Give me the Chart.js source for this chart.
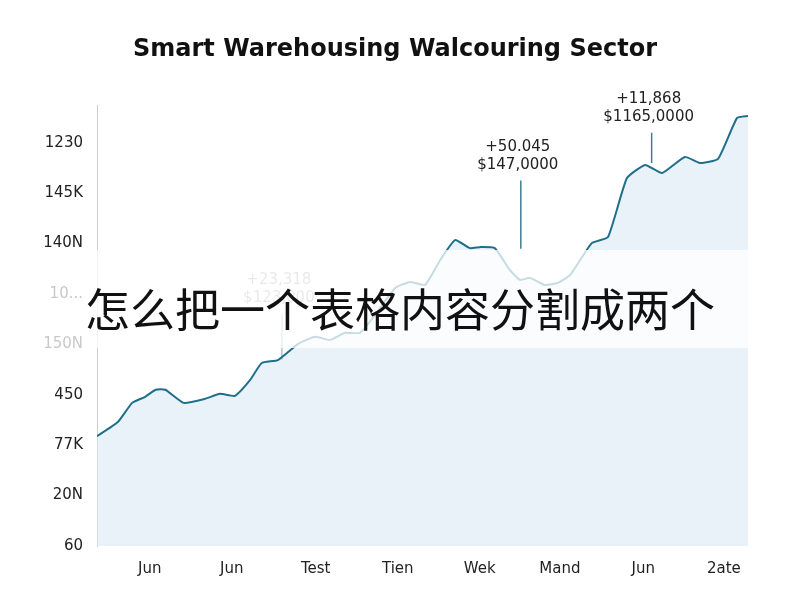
<!DOCTYPE html>
<html><head><meta charset="utf-8">
<script src="https://cdn.jsdelivr.net/npm/chart.js@4"></script>
<style>html,body{margin:0;padding:0;background:#fff}#w{width:800px;height:600px}</style>
</head><body><div id="w"><canvas id="c"></canvas></div>
<script>
const titleText = "Smart Warehousing Walcouring Sector";
const bannerText = "怎么把一个表格内容分割成两个";
const yTickLabels = ["60","20N","77K","450","150N","10...","140N","145K","1230"];
const xTickPos = [8.1,20.7,33.6,46.2,58.8,71.1,83.9,96.3];
const xTickLabels = ["Jun","Jun","Test","Tien","Wek","Mand","Jun","2ate"];
const xs = [0,3.2,5.4,7.4,9.0,10.5,13.3,16.6,18.9,21.2,23.5,25.3,27.8,30.9,33.5,35.8,38.1,40.4,42.7,45.8,48.1,50.4,52.7,55.0,57.3,58.8,61.1,63.4,65.0,66.5,68.8,70.8,72.7,76.0,78.5,81.4,84.2,86.8,90.3,92.6,95.4,98.3,100];
const ys = [2.18,2.46,2.84,2.96,3.10,3.10,2.84,2.92,3.02,2.98,3.29,3.63,3.69,4.01,4.15,4.09,4.23,4.23,4.58,5.12,5.24,5.18,5.67,6.07,5.91,5.93,5.91,5.48,5.28,5.32,5.18,5.22,5.38,6.01,6.13,7.30,7.56,7.40,7.72,7.60,7.68,8.49,8.53];
const notes = [
  {x:28.4, y:3.7, top:4.6, l1:"+23,318", l2:"$123,000", faint:true},
  {x:65.1, y:5.9, top:7.25, l1:"+50.045", l2:"$147,0000", faint:false},
  {x:85.2, y:7.6, top:8.2, l1:"+11,868", l2:"$1165,0000", faint:false}
];
const pts = xs.map((x,i)=>({x:x,y:ys[i]}));
const deco = {
  id:'deco',
  afterDatasetsDraw(ch){
    const c=ch.ctx, xs_=ch.scales.x, ys_=ch.scales.y;
    c.save();
    notes.forEach(n=>{
      const px=xs_.getPixelForValue(n.x), py=ys_.getPixelForValue(n.y), pt=ys_.getPixelForValue(n.top);
      c.strokeStyle=n.faint?'rgba(40,110,140,0.4)':'#3f7f95'; c.lineWidth=1.5;
      c.beginPath(); c.moveTo(px,pt); c.lineTo(px,py); c.stroke();
      c.fillStyle=n.faint?'rgba(30,30,30,0.4)':'#222'; c.font='15px "DejaVu Sans"'; c.textAlign='center';
      c.fillText(n.l1, px-3, pt-30); c.fillText(n.l2, px-3, pt-12);
    });
    c.restore();
  },
  afterDraw(ch){
    const c=ch.ctx; c.save();
    c.fillStyle='#111'; c.font='bold 24px "DejaVu Sans"'; c.textAlign='center'; c.textBaseline='middle';
    c.fillText(titleText,395,50);
    c.fillStyle='rgba(255,255,255,0.75)'; c.fillRect(0,250,800,98);
    c.fillStyle='#111'; c.font='45px "Noto Sans CJK SC"'; c.fillText(bannerText,400,310);
    c.restore();
  }
};
new Chart(document.getElementById('c'),{
  type:'line',
  data:{datasets:[{data:pts,borderColor:'#1f6f8b',borderWidth:2,backgroundColor:'rgba(218,234,244,0.6)',fill:'start',pointRadius:0,tension:0.15}]},
  options:{responsive:true,maintainAspectRatio:false,animation:false,
    layout:{padding:{top:105,right:52,left:0,bottom:0}},
    plugins:{legend:{display:false},tooltip:{enabled:false}},
    scales:{
      x:{type:'linear',min:0,max:100,grid:{display:false},border:{display:false},
        afterBuildTicks:s=>{s.ticks=xTickPos.map(v=>({value:v}));},
        afterFit:s=>{s.height=54;},
        ticks:{color:'#222',font:{size:15,family:'DejaVu Sans'},maxRotation:0,autoSkip:false,padding:6,
          callback:(v,i)=>xTickLabels[i]}},
      y:{min:0,max:8.75,grid:{display:false},border:{color:'#ccc'},
        afterBuildTicks:s=>{s.ticks=yTickLabels.map((t,i)=>({value:i}));},
        afterFit:s=>{s.width=97;},
        ticks:{color:'#222',font:{size:15,family:'DejaVu Sans'},padding:6,callback:(v,i)=>yTickLabels[i]}}
    }},
  plugins:[deco]
});
</script></body></html>
